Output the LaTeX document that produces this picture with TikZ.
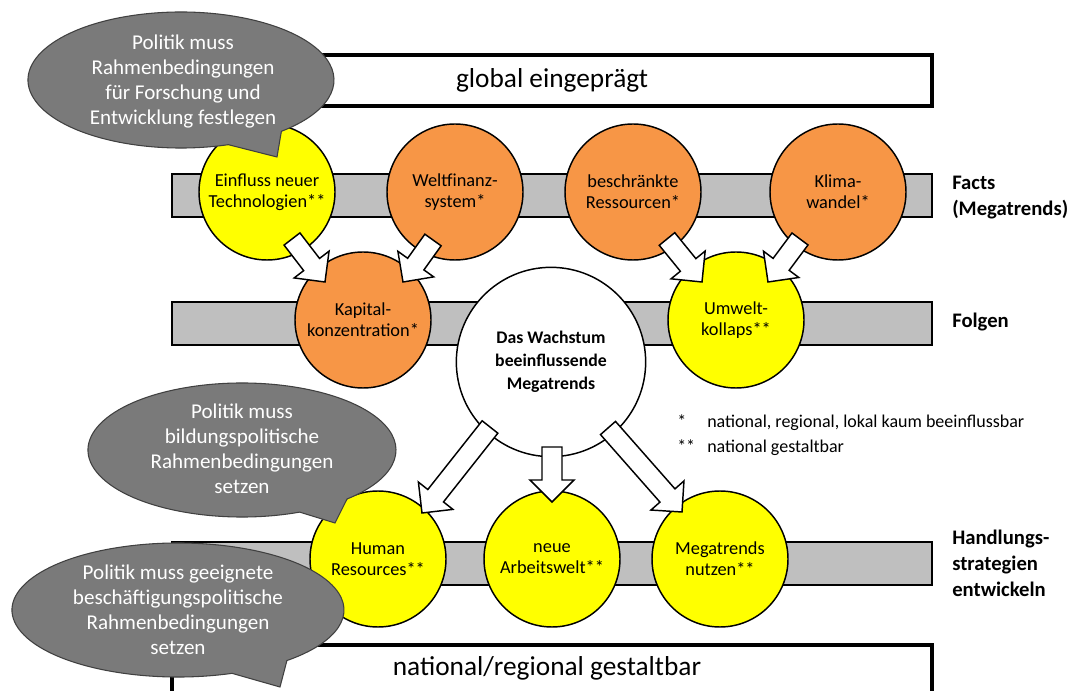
\documentclass[tikz,border=0pt]{standalone}
\usepackage{fontspec}
\setmainfont{Carlito}
\usetikzlibrary{calc}

\definecolor{trendorange}{HTML}{F79646}
\definecolor{trendyellow}{HTML}{FFFF00}
\definecolor{bargrey}{HTML}{BFBFBF}
\definecolor{bubblegrey}{HTML}{7A7A7A}
\definecolor{bubbleline}{HTML}{404040}

\tikzset{
  trend/.style={circle, draw=black, line width=1.1pt, minimum size=102pt,
    inner sep=0pt, align=center, font=\fontsize{13.75}{15.75}\selectfont},
  orangetrend/.style={trend, fill=trendorange},
  yellowtrend/.style={trend, fill=trendyellow},
  levelbar/.style={draw=black, line width=1.1pt, fill=bargrey},
  framebox/.style={draw=black, line width=3pt},
  boxtext/.style={font=\fontsize{20.5}{24}\selectfont},
  levellabel/.style={anchor=west, inner sep=0pt, align=left,
    font=\bfseries\fontsize{15.5}{19.5}\selectfont},
  bubble/.style={fill=bubblegrey, draw=bubbleline, line width=0.8pt},
  bubbletext/.style={text=white, align=center, font=\fontsize{15.8}{18.75}\selectfont},
  barrow/.style={fill=white, draw=black, line width=1.1pt, line join=miter},
}

% hollow block arrow from #1 (tail centre) to #2 (tip)
\newcommand\blockarrow[2]{%
  \coordinate (ba-s) at #1;
  \coordinate (ba-e) at #2;
  \coordinate (ba-h) at ($(ba-e)!16.5pt!(ba-s)$);
  \draw[barrow] ($(ba-s)!7.5pt!90:(ba-e)$) -- ($(ba-h)!7.5pt!90:(ba-e)$)
    -- ($(ba-h)!16.5pt!90:(ba-e)$) -- (ba-e)
    -- ($(ba-h)!16.5pt!-90:(ba-e)$) -- ($(ba-h)!7.5pt!-90:(ba-e)$)
    -- ($(ba-s)!7.5pt!-90:(ba-e)$) -- cycle;}

\begin{document}
\begin{tikzpicture}[x=0.75pt, y=-0.75pt]
  \useasboundingbox (0,0) rectangle (1072,691);
  \clip (0,0) rectangle (1072,691);
  \fill[white] (0,0) rectangle (1072,691);

  % level bars
  \draw[levelbar] (172,174) rectangle (932,217);
  \draw[levelbar] (172,302) rectangle (932,345);
  \draw[levelbar] (172,542) rectangle (932,585);

  % frames for the global and the national level
  \draw[framebox] (172,55) rectangle (932,106);
  \node[boxtext] (global) at (552,80) {global eingeprägt};
  \draw[framebox] (172,645) rectangle (932,720);
  \node[boxtext] (national) at (547,668) {national/regional gestaltbar};

  % facts (megatrends)
  \node[yellowtrend] (einfluss) at (267,192) {Einfluss neuer\\Technologien**};
  \node[orangetrend] (weltfin) at (455,192) {Weltfinanz-\\system*};
  \node[orangetrend] (ressourcen) at (633,192) {beschränkte\\Ressourcen*};
  \node[orangetrend] (klima) at (838,192) {Klima-\\wandel*};

  % consequences
  \node[orangetrend] (kapital) at (363,320) {Kapital-\\konzentration*};
  \node[yellowtrend] (umwelt) at (736,320) {Umwelt-\\kollaps**};

  % centre
  \node[circle, draw=black, line width=1.1pt, fill=white, minimum size=142pt,
    inner sep=0pt, align=center, font=\bfseries\fontsize{13.3}{17.25}\selectfont]
    (wachstum) at (551,362) {Das Wachstum\\beeinflussende\\Megatrends};

  % strategies
  \node[yellowtrend] (human) at (378,559) {Human\\Resources**};
  \node[yellowtrend] (arbeit) at (552,559) {neue\\Arbeitswelt**};
  \node[yellowtrend] (nutzen) at (720,559) {Megatrends\\nutzen**};

  % arrows
  \blockarrow{($(einfluss)+(25,47)$)}{($(kapital)+(-38,-38)$)}
  \blockarrow{($(weltfin)+(-22,48)$)}{($(kapital)+(40,-38)$)}
  \blockarrow{($(ressourcen)+(34,47)$)}{($(umwelt)+(-34,-38)$)}
  \blockarrow{($(klima)+(-38,47)$)}{($(umwelt)+(32,-38)$)}
  \blockarrow{($(wachstum)+(-61,65)$)}{($(human)+(44,-46)$)}
  \blockarrow{($(wachstum)+(1,85)$)}{($(arbeit)+(0,-57)$)}
  \blockarrow{($(wachstum)+(57,66)$)}{($(nutzen)+(-38,-47)$)}

  % speech bubbles
  \filldraw[bubble] (181,80) ++(72:153 and 68)
    arc[start angle=72, end angle=409, x radius=153, y radius=68]
    -- (277,157) -- cycle;
  \node[bubbletext] (forschung) at (183,82)
    {Politik muss\\Rahmenbedingungen\\für Forschung und\\Entwicklung festlegen};

  \filldraw[bubble] (242,450) ++(68:154 and 67)
    arc[start angle=68, end angle=407, x radius=154, y radius=67]
    -- (335,523) -- cycle;
  \node[bubbletext] (bildung) at (242,449)
    {Politik muss\\bildungspolitische\\Rahmenbedingungen\\setzen};

  \filldraw[bubble] (178,610) ++(71:166 and 67)
    arc[start angle=71, end angle=409, x radius=166, y radius=67]
    -- (280,687) -- cycle;
  \node[bubbletext] (beschaeftigung) at (178,610)
    {Politik muss geeignete\\beschäftigungspolitische\\Rahmenbedingungen\\setzen};

  % level labels
  \node[levellabel] (factslabel) at (952,198) {Facts\\(Megatrends)};
  \node[levellabel] (folgenlabel) at (952,322) {Folgen};
  \node[levellabel] (handlabel) at (952,563) {Handlungs-\\strategien\\entwickeln};

  % legend
  \node[anchor=north west, inner sep=0pt, font=\fontsize{13.5}{18.75}\selectfont]
    (legend) at (677,410)
    {\begin{tabular}{@{}p{22.5pt}@{}l@{}}
      * & national, regional, lokal kaum beeinflussbar\\
      {**} & national gestaltbar
    \end{tabular}};
\end{tikzpicture}
\end{document}
